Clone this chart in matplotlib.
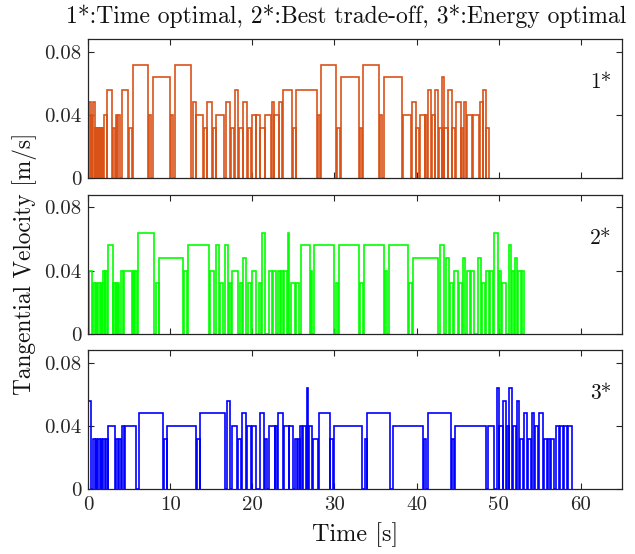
import matplotlib
matplotlib.use("Agg")
import matplotlib.pyplot as plt

plt.rcParams['font.family'] = 'cmr10'
plt.rcParams['mathtext.fontset'] = 'cm'
plt.rcParams['axes.formatter.use_mathtext'] = True

# ---- Time-optimal trajectory (1*): segment start [s], end [s], velocity [m/s]
opt1_start = [0.10, 0.36, 0.52, 0.86, 1.08, 1.28, 1.48, 1.68, 1.90, 2.30, 2.98, 3.36, 3.62,
              4.05, 4.92, 5.48, 7.45, 7.90, 10.10, 10.55, 12.70, 13.18, 14.08, 14.52, 15.16,
              15.62, 16.80, 17.38, 17.88, 18.36, 18.88, 19.46, 19.96, 20.46, 20.94, 21.58,
              22.38, 22.68, 23.24, 23.70, 24.90, 25.32, 27.98, 28.35, 30.28, 30.80, 33.06,
              33.50, 35.58, 36.00, 38.38, 39.45, 39.95, 40.45, 41.06, 41.40, 41.86, 42.28,
              42.68, 43.10, 43.36, 43.86, 44.35, 44.78, 45.46, 45.78, 46.10, 46.88, 47.68,
              48.14, 48.50]
opt1_end = [0.30, 0.46, 0.80, 1.02, 1.22, 1.42, 1.62, 1.82, 2.22, 2.92, 3.30, 3.55, 3.92,
            4.86, 5.38, 7.30, 7.62, 9.94, 10.30, 12.50, 13.10, 14.00, 14.45, 15.10, 15.55,
            16.50, 17.30, 17.80, 18.30, 18.80, 19.40, 19.88, 20.40, 20.88, 21.50, 22.30,
            22.60, 23.18, 23.60, 24.80, 25.25, 27.86, 28.20, 30.20, 30.68, 33.00, 33.40,
            35.40, 35.80, 38.20, 39.28, 39.88, 40.30, 41.00, 41.30, 41.78, 42.20, 42.60,
            43.05, 43.30, 43.78, 44.28, 44.70, 45.40, 45.72, 46.02, 46.80, 47.62, 48.06,
            48.45, 48.85]
opt1_vel = [0.048, 0.040, 0.048, 0.032, 0.032, 0.032, 0.032, 0.032, 0.040, 0.056, 0.032,
            0.040, 0.040, 0.056, 0.032, 0.072, 0.040, 0.064, 0.040, 0.072, 0.048, 0.040,
            0.032, 0.048, 0.032, 0.040, 0.048, 0.032, 0.056, 0.032, 0.048, 0.032, 0.040,
            0.040, 0.032, 0.040, 0.048, 0.040, 0.048, 0.056, 0.032, 0.056, 0.040, 0.072,
            0.032, 0.064, 0.032, 0.072, 0.040, 0.064, 0.040, 0.048, 0.032, 0.040, 0.040,
            0.056, 0.040, 0.056, 0.032, 0.064, 0.032, 0.056, 0.032, 0.048, 0.032, 0.048,
            0.040, 0.040, 0.048, 0.056, 0.032]

# ---- Best trade-off trajectory (2*)
opt2_start = [0.13, 0.53, 0.88, 1.20, 1.50, 1.80, 2.08, 2.44, 3.05, 3.35, 3.60, 3.94, 4.30,
              5.40, 5.70, 6.00, 8.24, 8.64, 11.70, 12.09, 14.80, 15.60, 16.00, 16.63, 17.16,
              17.56, 18.45, 18.80, 19.47, 19.95, 20.80, 21.17, 21.98, 22.48, 23.08, 23.48,
              23.90, 24.30, 24.74, 25.35, 25.96, 27.09, 27.54, 30.21, 30.58, 33.17, 33.62,
              36.17, 36.66, 39.13, 39.58, 42.87, 43.60, 44.12, 44.60, 45.20, 45.62, 46.15,
              46.63, 47.49, 47.93, 48.46, 48.93, 49.48, 50.00, 50.41, 51.22, 51.63, 51.99,
              52.36, 52.80]
opt2_end = [0.41, 0.80, 1.08, 1.42, 1.70, 2.00, 2.32, 2.96, 3.25, 3.52, 3.80, 4.18, 5.28,
            5.62, 5.90, 8.00, 8.56, 11.56, 11.97, 14.68, 15.33, 15.90, 16.40, 17.03, 17.44,
            18.25, 18.74, 19.27, 19.79, 20.48, 21.09, 21.50, 22.40, 22.90, 23.40, 23.73,
            24.20, 24.48, 25.15, 25.67, 26.97, 27.30, 29.93, 30.46, 32.97, 33.46, 36.01,
            36.42, 39.01, 39.46, 42.62, 43.31, 44.00, 44.40, 45.00, 45.54, 45.95, 46.55,
            47.04, 47.85, 48.38, 48.85, 49.27, 49.88, 50.29, 50.90, 51.50, 51.91, 52.23,
            52.72, 53.12]
opt2_vel = [0.040, 0.032, 0.032, 0.032, 0.032, 0.040, 0.040, 0.056, 0.032, 0.032, 0.032,
            0.040, 0.040, 0.040, 0.040, 0.064, 0.032, 0.048, 0.040, 0.056, 0.040, 0.056,
            0.032, 0.056, 0.032, 0.040, 0.032, 0.048, 0.032, 0.040, 0.032, 0.064, 0.040,
            0.040, 0.040, 0.040, 0.040, 0.064, 0.032, 0.032, 0.056, 0.040, 0.056, 0.032,
            0.056, 0.032, 0.056, 0.040, 0.056, 0.032, 0.048, 0.056, 0.048, 0.032, 0.040,
            0.032, 0.048, 0.040, 0.040, 0.048, 0.032, 0.040, 0.040, 0.064, 0.040, 0.032,
            0.056, 0.040, 0.048, 0.040, 0.040]

# ---- Energy-optimal trajectory (3*)
opt3_start = [0.00, 0.53, 0.92, 1.22, 1.52, 1.82, 2.15, 2.46, 3.37, 3.72, 4.14, 4.50, 6.21,
              9.25, 9.65, 13.30, 13.67, 16.87, 17.48, 18.29, 18.70, 19.39, 19.93, 20.89,
              21.50, 21.98, 22.80, 23.16, 23.85, 24.50, 25.15, 25.50, 25.80, 26.18, 26.65,
              26.90, 27.40, 28.10, 29.50, 29.93, 33.66, 33.98, 37.10, 40.88, 41.37, 44.33,
              44.73, 48.66, 49.76, 50.08, 50.57, 51.02, 51.30, 51.70, 52.23, 52.64, 53.10,
              53.53, 54.02, 54.46, 54.87, 55.56, 55.98, 56.36, 56.98, 57.48, 57.92, 58.44]
opt3_end = [0.33, 0.80, 1.12, 1.42, 1.72, 2.05, 2.40, 3.25, 3.62, 4.02, 4.38, 5.80, 9.05,
            9.53, 13.10, 13.58, 16.71, 17.24, 18.13, 18.62, 19.27, 19.85, 20.40, 21.42,
            21.82, 22.71, 23.05, 23.73, 24.40, 24.90, 25.40, 25.75, 26.10, 26.55, 26.77,
            27.30, 28.00, 29.40, 29.80, 33.38, 33.94, 36.82, 40.76, 41.16, 44.20, 44.61,
            48.46, 49.48, 50.00, 50.49, 50.90, 51.22, 51.58, 52.10, 52.52, 53.00, 53.40,
            53.94, 54.34, 54.75, 55.36, 55.86, 56.25, 56.77, 57.40, 57.82, 58.34, 59.00]
opt3_vel = [0.056, 0.032, 0.032, 0.032, 0.032, 0.032, 0.032, 0.040, 0.032, 0.032, 0.040,
            0.040, 0.048, 0.032, 0.040, 0.032, 0.048, 0.056, 0.040, 0.032, 0.048, 0.040,
            0.040, 0.048, 0.032, 0.040, 0.040, 0.048, 0.040, 0.040, 0.032, 0.032, 0.040,
            0.040, 0.064, 0.040, 0.032, 0.048, 0.032, 0.040, 0.032, 0.048, 0.040, 0.032,
            0.048, 0.032, 0.040, 0.040, 0.064, 0.040, 0.056, 0.040, 0.064, 0.040, 0.056,
            0.032, 0.048, 0.032, 0.048, 0.040, 0.048, 0.032, 0.032, 0.032, 0.040, 0.040,
            0.040, 0.040]

panel_tags = ["1*", "2*", "3*"]
panel_colors = ["#D95319", "#00FF00", "#0000FF"]
y_ticks = [0, 0.04, 0.08]
y_ticklabels = ["0", "0.04", "0.08"]
x_ticks = [0, 10, 20, 30, 40, 50, 60]
x_ticklabels = ["0", "10", "20", "30", "40", "50", "60"]


def pulse_train(starts, ends, levels):
    """Piecewise-constant velocity that returns to zero between segments."""
    t, v = [0.0], [0.0]
    for s, e, lv in zip(starts, ends, levels):
        t += [s, s, e, e]
        v += [0.0, lv, lv, 0.0]
    return t, v


series = [(opt1_start, opt1_end, opt1_vel),
          (opt2_start, opt2_end, opt2_vel),
          (opt3_start, opt3_end, opt3_vel)]

W, H = 635, 554
fig = plt.figure(figsize=(W / 100, H / 100), dpi=100)
left, right = 88.3, 621.7
tops = [39.3, 194.8, 350.3]
ph = 139.0

axes = []
for i, (data, col, tag) in enumerate(zip(series, panel_colors, panel_tags)):
    ax = fig.add_axes([left / W, 1 - (tops[i] + ph) / H, (right - left) / W, ph / H])
    t, v = pulse_train(*data)
    ax.plot(t, v, color=col, lw=1.2, solid_joinstyle='miter')
    ax.set_xlim(0, 65)
    ax.set_ylim(0, 0.088)
    ax.set_yticks(y_ticks)
    ax.set_yticklabels(y_ticklabels)
    ax.set_xticks(x_ticks)
    if i == 2:
        ax.set_xticklabels(x_ticklabels)
    else:
        ax.set_xticklabels([])
    ax.tick_params(direction='in', top=True, right=True, length=4, width=0.8,
                   labelsize=15, colors='#262626', pad=5)
    for sp in ax.spines.values():
        sp.set_color('#262626')
        sp.set_linewidth(0.9)
    ax.text(0.961, 0.69, tag, transform=ax.transAxes, ha='center', va='center',
            fontsize=15.5, color='#111111')
    axes.append(ax)

axes[0].set_title("1*:Time optimal, 2*:Best trade-off, 3*:Energy optimal",
                  fontsize=17.0, pad=12, color='#111111', x=0.484)
axes[1].set_ylabel("Tangential Velocity [m/s]", fontsize=16.8, color='#111111', labelpad=5)
axes[2].set_xlabel("Time [s]", fontsize=17.5, color='#111111', labelpad=6)

fig.savefig("out.png", dpi=100)
